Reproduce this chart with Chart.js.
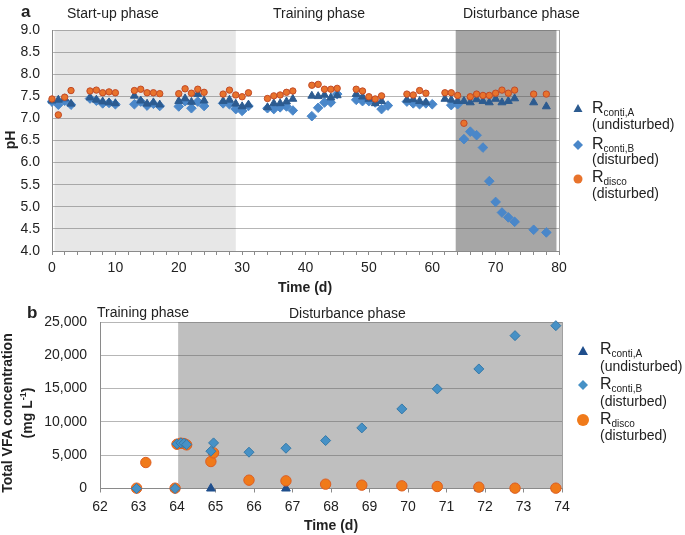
<!DOCTYPE html>
<html>
<head>
<meta charset="utf-8">
<script src="https://cdn.jsdelivr.net/npm/chart.js@4.4.1/dist/chart.umd.min.js"></script>
<style>
  body { margin: 0; background: #fff; }
  #wrap { position: relative; width: 685px; height: 535px; overflow: hidden;
          font-family: "Liberation Sans", Arial, sans-serif; color: #222; }
  canvas { position: absolute; left: 0; }
  .t { position: absolute; white-space: nowrap; font-size: 14px; line-height: 1; transform: translateY(-50%); }
  .c { transform: translate(-50%, -50%); }
  .b { font-weight: bold; }
  .r { font-size: 16px; }
  .r sub { font-size: 10px; vertical-align: -3px; }
  .rot { position: absolute; white-space: nowrap; font-size: 14px; font-weight: bold; line-height: 16px;
         text-align: center; transform: translate(-50%, -50%) rotate(-90deg); }
  #marks { position: absolute; left: 0; top: 0; }
</style>
</head>
<body>
<div id="wrap">
  <canvas id="chartA" width="685" height="285" style="top:0;width:685px;height:285px"></canvas>
  <canvas id="chartB" width="685" height="250" style="top:285px;width:685px;height:250px"></canvas>

  <!-- panel a texts -->
  <div class="t b" style="left:21px;top:11px;font-size:17px">a</div>
  <div class="t" style="left:67px;top:13px">Start-up phase</div>
  <div class="t" style="left:273px;top:13px">Training phase</div>
  <div class="t" style="left:463px;top:13px">Disturbance phase</div>
  <div class="rot" style="left:10px;top:140px">pH</div>
  <div class="t b c" style="left:305px;top:287px">Time (d)</div>

  <div class="t r" style="left:592px;top:109px">R<sub>conti,A</sub></div>
  <div class="t" style="left:592px;top:124px">(undisturbed)</div>
  <div class="t r" style="left:592px;top:145px">R<sub>conti,B</sub></div>
  <div class="t" style="left:592px;top:159px">(disturbed)</div>
  <div class="t r" style="left:592px;top:178px">R<sub>disco</sub></div>
  <div class="t" style="left:592px;top:193px">(disturbed)</div>

  <!-- panel b texts -->
  <div class="t b" style="left:27px;top:312px;font-size:17px">b</div>
  <div class="t" style="left:97px;top:312px">Training phase</div>
  <div class="t" style="left:289px;top:313px">Disturbance phase</div>
  <div class="rot" style="left:17px;top:413px">Total VFA concentration<br>(mg L<sup style="font-size:9px">-1</sup>)</div>
  <div class="t b c" style="left:331px;top:525px">Time (d)</div>

  <div class="t r" style="left:600px;top:350px">R<sub>conti,A</sub></div>
  <div class="t" style="left:600px;top:366px">(undisturbed)</div>
  <div class="t r" style="left:600px;top:385px">R<sub>conti,B</sub></div>
  <div class="t" style="left:600px;top:401px">(disturbed)</div>
  <div class="t r" style="left:600px;top:420px">R<sub>disco</sub></div>
  <div class="t" style="left:600px;top:435px">(disturbed)</div>

  <svg id="marks" width="685" height="535">
    <polygon points="578,104 582.5,112 573.5,112" fill="#2C5B90"/>
    <polygon points="578,140 583,145 578,150 573,145" fill="#4A87C9"/>
    <circle cx="578" cy="179" r="4.5" fill="#E8732C"/>
    <polygon points="583,346 588,355 578,355" fill="#1F4E8C"/>
    <polygon points="583,380 588,385 583,390 578,385" fill="#4691C6"/>
    <circle cx="583" cy="420" r="6" fill="#F07A1A"/>
  </svg>
</div>

<script>
// ---- panel a: pH ----
const dayContiA = [0,1,2,3, 6,7,8,9,10, 13,14,15,16,17, 20,21,22,23,24, 27,28,29,30,31,
                   34,35,36,37,38, 41,42,43,44,45, 48,49,50,51,52, 56,57,58,59,
                   62,63,64,65,66,67,68,69,70,71,72,73,76,78];
const phContiA  = [7.40,7.42,7.45,7.33, 7.47,7.42,7.38,7.36,7.34, 7.51,7.40,7.33,7.36,7.31,
                   7.39,7.45,7.37,7.55,7.40, 7.39,7.42,7.33,7.27,7.31, 7.25,7.34,7.34,7.38,7.44,
                   7.51,7.50,7.53,7.47,7.52, 7.55,7.49,7.44,7.34,7.39, 7.42,7.43,7.39,7.36,
                   7.44,7.42,7.39,7.39,7.36,7.43,7.39,7.36,7.44,7.36,7.39,7.45,7.36,7.27];

const dayContiB = [0,1,2,3, 6,7,8,9,10, 13,14,15,16,17, 20,21,22,23,24, 27,28,29,30,31,
                   34,35,36,37,38, 41,42,43,44,45, 48,49,50,51,52,53, 56,57,58,59,60,
                   63,64,65,66,67,68,69,70,71,72,73,76,78];
const phContiB  = [7.38,7.31,7.40,7.31, 7.45,7.40,7.34,7.35,7.32, 7.32,7.38,7.29,7.33,7.28,
                   7.27,7.39,7.23,7.38,7.28, 7.34,7.32,7.21,7.17,7.28, 7.23,7.21,7.25,7.27,7.18,
                   7.05,7.24,7.36,7.36,7.55, 7.42,7.39,7.39,7.36,7.21,7.29, 7.38,7.34,7.32,7.34,7.32,
                   7.30,7.32,6.53,6.70,6.62,6.34,5.58,5.11,4.87,4.76,4.66,4.48,4.42];

const dayDisco  = [0,1,2,3, 6,7,8,9,10, 13,14,15,16,17, 20,21,22,23,24, 27,28,29,30,31,
                   34,35,36,37,38, 41,42,43,44,45, 48,49,50,51,52, 56,57,58,59,
                   62,63,64,65,66,67,68,69,70,71,72,73,76,78];
const phDisco   = [7.44,7.08,7.48,7.63, 7.62,7.64,7.58,7.60,7.58, 7.63,7.66,7.58,7.58,7.56,
                   7.56,7.67,7.57,7.66,7.59, 7.55,7.64,7.53,7.49,7.58, 7.45,7.51,7.53,7.59,7.62,
                   7.75,7.77,7.66,7.66,7.68, 7.66,7.62,7.49,7.44,7.51, 7.55,7.53,7.63,7.57,
                   7.58,7.58,7.52,6.89,7.49,7.55,7.52,7.52,7.57,7.64,7.57,7.64,7.55,7.55];

// ---- panel b: total VFA (mg/L) ----
const vfaDayA   = [62.95, 63.95, 64.88, 66.83, 71.84, 72.78, 73.84];
const vfaA      = [0, 0, 0, 0, 0, 0, 0];
const vfaDayB   = [62.95, 63.95, 64.0, 64.1, 64.18, 64.25, 64.88, 64.95, 65.87, 66.83,
                   67.86, 68.8, 69.84, 70.76, 71.84, 72.78, 73.84];
const vfaB      = [0, 0, 6700, 6850, 6800, 6600, 5600, 6850, 5450, 6050,
                   7200, 9100, 11950, 14950, 17950, 22950, 24450];
const vfaDayDisco = [62.95, 63.19, 63.95, 64.0, 64.1, 64.18, 64.25, 64.88, 64.95, 65.87,
                     66.83, 67.86, 68.8, 69.84, 70.76, 71.84, 72.78, 73.84];
const vfaDisco  = [50, 3900, 50, 6650, 6800, 6750, 6550, 4050, 5350, 1250,
                   1150, 650, 500, 400, 300, 200, 50, 50];

// phase bands (days)
const phasesA = [[0.4, 29, '#e7e7e7'], [63.7, 79.6, '#a6a6a6']];
const phasesB = [[64.03, 74, '#bfbfbf']];

const pts = (xs, ys) => xs.map((x, i) => ({ x, y: ys[i] }));

const phaseShade = {
    id: 'phaseShade',
    beforeDraw(chart, args, opts) {
        const { ctx, chartArea: a, scales: { x } } = chart;
        ctx.save();
        opts.bands.forEach(([from, to, color]) => {
            const x0 = Math.max(x.getPixelForValue(from), a.left);
            const x1 = Math.min(x.getPixelForValue(to), a.right);
            ctx.fillStyle = color;
            ctx.fillRect(x0, a.top, x1 - x0, a.bottom - a.top);
        });
        ctx.strokeStyle = '#a0a0a0';
        ctx.lineWidth = 1;
        ctx.beginPath();
        ctx.moveTo(a.right + 0.5, a.top);
        ctx.lineTo(a.right + 0.5, a.bottom);
        ctx.stroke();
        ctx.restore();
    }
};

Chart.defaults.font.family = '"Liberation Sans", Arial, sans-serif';
Chart.defaults.font.size = 14;
Chart.defaults.color = '#222';

const gridCol = 'rgba(80,80,80,0.42)';

function baseOptions(cfg) {
    return {
        responsive: false,
        animation: false,
        events: [],
        layout: { padding: cfg.padding },
        plugins: { legend: { display: false }, tooltip: { enabled: false },
                   phaseShade: { bands: cfg.bands } },
        scales: {
            x: {
                type: 'linear', min: cfg.xMin, max: cfg.xMax,
                afterFit: s => { s.height = cfg.xHeight; },
                grid: { drawOnChartArea: false, drawTicks: true, tickLength: 4, color: '#8a8a8a' },
                border: { color: '#8a8a8a' },
                ticks: { stepSize: cfg.xStep, autoSkip: false, maxRotation: 0, padding: cfg.xPad,
                         callback: cfg.xLabel }
            },
            y: {
                min: cfg.yMin, max: cfg.yMax,
                afterFit: s => { s.width = cfg.yWidth; },
                grid: { color: gridCol, drawTicks: false },
                border: { color: '#8a8a8a' },
                ticks: { stepSize: cfg.yStep, padding: cfg.yPad, callback: cfg.yLabel }
            }
        }
    };
}

new Chart(document.getElementById('chartA'), {
    type: 'scatter',
    plugins: [phaseShade],
    data: {
        datasets: [
            { label: 'Rdisco', data: pts(dayDisco, phDisco), pointStyle: 'circle', pointRadius: 3.2,
              backgroundColor: '#E8732C', borderColor: '#C24A26', borderWidth: 1, clip: false, order: 0 },
            { label: 'Rconti,A', data: pts(dayContiA, phContiA), pointStyle: 'triangle', pointRadius: 4.6,
              backgroundColor: '#2C5B90', borderColor: '#2C5B90', borderWidth: 1, clip: false, order: 1 },
            { label: 'Rconti,B', data: pts(dayContiB, phContiB), pointStyle: 'rectRot', pointRadius: 4.8,
              backgroundColor: '#4A87C9', borderColor: '#4A87C9', borderWidth: 1, clip: false, order: 2 }
        ]
    },
    options: baseOptions({
        padding: { left: 0, right: 126, top: 30, bottom: 0 },
        bands: phasesA,
        xMin: 0, xMax: 80, xStep: 2, xHeight: 34, xPad: 5,
        xLabel: v => (v % 10 === 0 ? v : ''),
        yMin: 4, yMax: 9, yStep: 0.5, yWidth: 52, yPad: 12,
        yLabel: v => v.toFixed(1)
    })
});

new Chart(document.getElementById('chartB'), {
    type: 'scatter',
    plugins: [phaseShade],
    data: {
        datasets: [
            { label: 'Rconti,B', data: pts(vfaDayB, vfaB), pointStyle: 'rectRot', pointRadius: 5,
              backgroundColor: '#4691C6', borderColor: '#3579A8', borderWidth: 1, clip: false, order: 0 },
            { label: 'Rdisco', data: pts(vfaDayDisco, vfaDisco), pointStyle: 'circle', pointRadius: 5.2,
              backgroundColor: '#F07A1A', borderColor: '#DD5E22', borderWidth: 1, clip: false, order: 1 },
            { label: 'Rconti,A', data: pts(vfaDayA, vfaA), pointStyle: 'triangle', pointRadius: 5,
              backgroundColor: '#1F4E8C', borderColor: '#1F4E8C', borderWidth: 1, clip: false, order: 2 }
        ]
    },
    options: baseOptions({
        padding: { left: 0, right: 123, top: 37, bottom: 0 },
        bands: phasesB,
        xMin: 62, xMax: 74, xStep: 1, xHeight: 46.5, xPad: 6,
        xLabel: v => v,
        yMin: 0, yMax: 25000, yStep: 5000, yWidth: 100, yPad: 13,
        yLabel: v => v.toLocaleString('en-US')
    })
});
</script>
</body>
</html>
